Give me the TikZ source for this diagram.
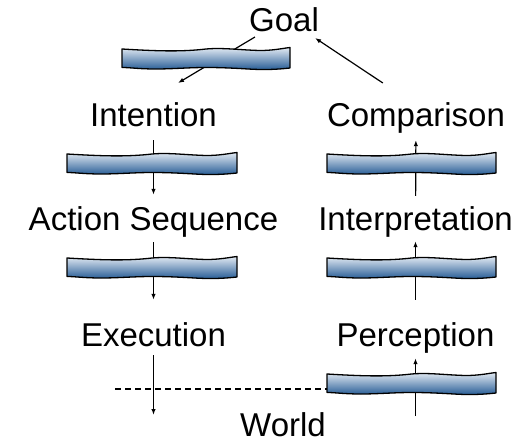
\documentclass[tikz,border=0pt]{standalone}
\usepackage{fontspec}
\setmainfont{Liberation Sans}
\usetikzlibrary{arrows.meta,calc}
\definecolor{barlight}{RGB}{226,234,243}
\definecolor{bardark}{RGB}{36,90,148}
\tikzset{
 lbl/.style={anchor=base, inner sep=0pt, text height=24pt, text depth=7pt, font=\fontsize{33}{40}\selectfont},
 conn/.style={line width=1.2pt, -{Latex[length=6pt,width=4.5pt]}},
 barshade/.style={top color=barlight, bottom color=bardark, draw=black, line width=1.3pt, line join=round},
 worldline/.style={line width=1.2pt, dash pattern=on 6pt off 4pt},
}
\newcommand\wavebar[4]{%
 \begin{scope}[shift={(#2,#3)}, xscale=#4/100]
  \shade[barshade] (0,1) .. controls (20,3) and (35,4) .. (50,1)
     .. controls (60,-0.5) and (70,2) .. (82,2.5)
     .. controls (90,2.5) and (95,0.5) .. (100,-0.5)
     -- (100,20)
     .. controls (92,21.5) and (85,22) .. (75,21)
     .. controls (65,20) and (58,19.5) .. (50,19.5)
     .. controls (40,19.5) and (30,21) .. (20,21)
     .. controls (10,21) and (5,19.5) .. (0,19.5) -- cycle;
  \coordinate (#1-d) at (0,16);
 \end{scope}}
\begin{document}
\begin{tikzpicture}[x=1pt,y=-1pt]
\useasboundingbox (0,0) rectangle (525,444);
% labels
\node[lbl] (goal) at (284,32) {Goal};
\node[lbl] (int) at (153.5,126) {Intention};
\node[lbl] (comp) at (416,126) {Comparison};
\node[lbl] (act) at (153.5,230) {Action Sequence};
\node[lbl] (interp) at (415.5,230) {Interpretation};
\node[lbl] (exe) at (153.5,346) {Execution};
\node[lbl] (perc) at (415.5,346) {Perception};
\node[lbl] (world) at (283,436) {World};
\coordinate (wl) at (153.5,415);
\coordinate (wr) at (415.5,416);
\coordinate (dl) at (115,389);
% connectors
\draw[conn] ($(goal.base west)+(6,5)$) -- ($(int.base west)+(88,-43)$);
\draw[conn] ($(comp.base west)+(56,-43)$) -- ($(goal.base east)+(-4,6)$);
\draw[conn, shorten <=7pt, shorten >=11pt] (int) -- (act);
\draw[conn, shorten <=5pt, shorten >=22pt] (act) -- (exe);
\draw[conn, shorten <=2pt] (exe) -- (wl);
\draw[conn, shorten <=10pt, shorten >=7pt] (interp) -- (comp);
\draw[conn, shorten <=22pt, shorten >=4pt] (perc) -- (interp);
\draw[conn, shorten >=5pt] (wr) -- (perc);
% bars
\wavebar{b0}{122}{48}{168}
\wavebar{bl1}{67}{153}{170}
\wavebar{bl2}{67}{257}{170}
\wavebar{br1}{327}{153}{169}
\wavebar{br2}{327}{257}{169}
\wavebar{br3}{327}{373}{169}
\draw[worldline] (dl) -- (br3-d);
\end{tikzpicture}
\end{document}
